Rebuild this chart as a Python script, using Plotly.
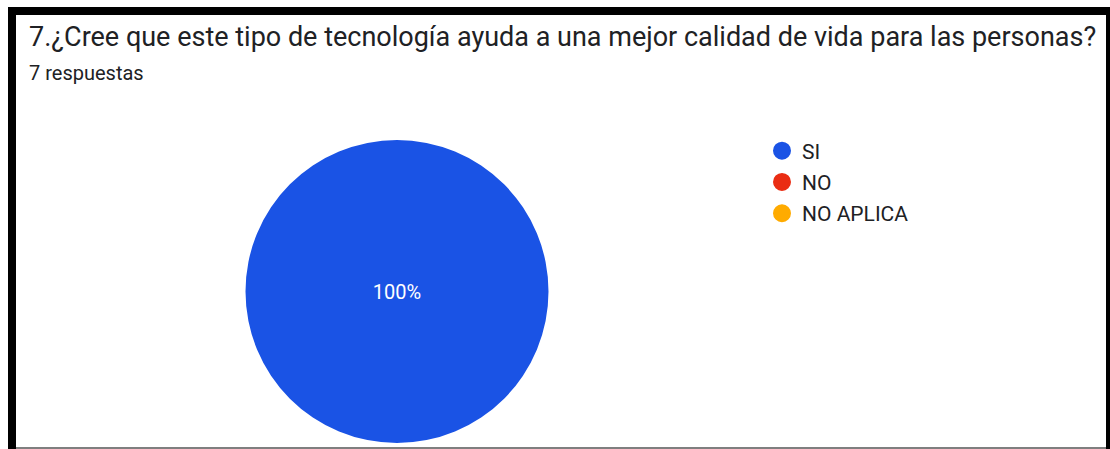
import plotly.graph_objects as go

W, H = 1110, 449

# Survey answers
question = "7.¿Cree que este tipo de tecnología ayuda a una mejor calidad de vida para las personas?"
subtitle = "7 respuestas"
labels = ["SI", "NO", "NO APLICA"]
counts = [7, 0, 0]
colors = ["#1a53e5", "#ea2d13", "#ffab00"]

FONT = "Roboto"


def px(x):
    return x / W


def py(y):
    return 1 - y / H


fig = go.Figure()

fig.add_trace(go.Pie(
    labels=labels,
    values=counts,
    marker=dict(colors=colors, line=dict(width=0)),
    sort=False,
    direction="clockwise",
    textinfo="percent",
    textposition="inside",
    insidetextfont=dict(family=FONT, size=20, color="white"),
    showlegend=False,
    hoverinfo="label+value+percent",
    domain=dict(x=[px(245), px(549)], y=[py(443), py(140)]),
))

# legend entries with round markers
for i, (lab, col) in enumerate(zip(labels, colors)):
    fig.add_trace(go.Scatter(
        x=[None], y=[None], mode="markers", name=lab,
        marker=dict(color=col, size=16, symbol="circle", line=dict(color=col, width=2)),
        legendgroup=lab, showlegend=True,
    ))

shapes = [
    # dark frame around the card
    dict(type="rect", xref="paper", yref="paper", x0=px(8), x1=px(16), y0=py(449), y1=py(7),
         fillcolor="black", line=dict(width=0), layer="above"),
    dict(type="rect", xref="paper", yref="paper", x0=px(8), x1=px(1110), y0=py(15), y1=py(7),
         fillcolor="black", line=dict(width=0), layer="above"),
    dict(type="rect", xref="paper", yref="paper", x0=px(1106), x1=px(1110), y0=py(449), y1=py(7),
         fillcolor="black", line=dict(width=0), layer="above"),
    dict(type="line", xref="paper", yref="paper", x0=px(16), x1=px(1106), y0=py(448), y1=py(448),
         line=dict(color="#555555", width=1.5), layer="above"),
]

annotations = [
    dict(text=question, xref="paper", yref="paper", x=px(27), y=py(36.5), xanchor="left", yanchor="middle",
         showarrow=False, font=dict(family=FONT, size=27, color="#202124")),
    dict(text=subtitle, xref="paper", yref="paper", x=px(27), y=py(73), xanchor="left", yanchor="middle",
         showarrow=False, font=dict(family=FONT, size=20, color="#202124")),
]

fig.update_layout(
    width=W, height=H,
    margin=dict(l=0, r=0, t=0, b=0),
    paper_bgcolor="white", plot_bgcolor="white",
    xaxis=dict(visible=False), yaxis=dict(visible=False),
    showlegend=True,
    legend=dict(x=px(762), y=py(130.5), xanchor="left", yanchor="top",
                font=dict(family=FONT, size=21, color="#202124"),
                tracegroupgap=1, itemclick=False, itemdoubleclick=False,
                bgcolor="rgba(0,0,0,0)"),
    shapes=shapes,
    annotations=annotations,
)

fig.write_html("out.html")
